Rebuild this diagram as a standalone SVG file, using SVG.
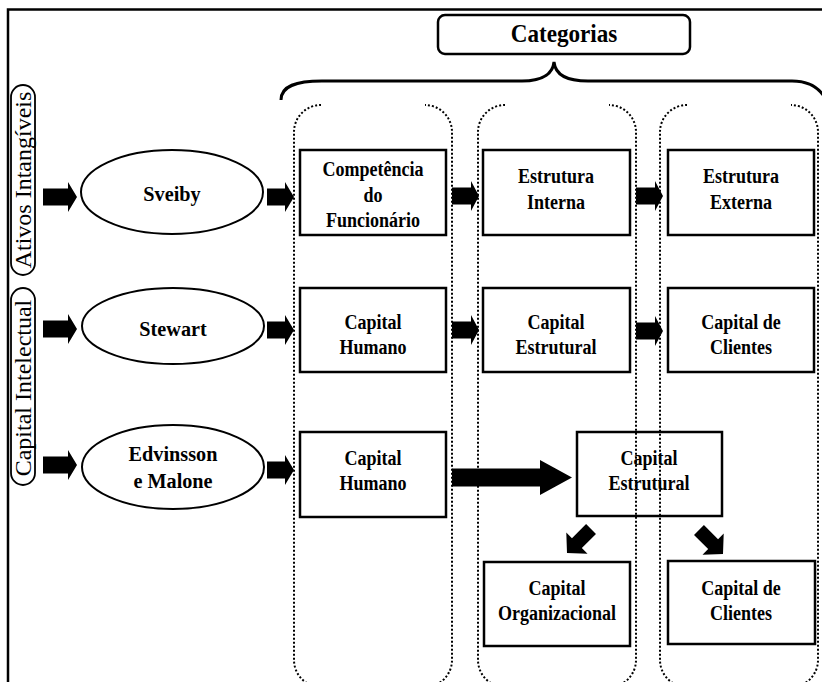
<svg xmlns="http://www.w3.org/2000/svg" width="822" height="682" viewBox="0 0 822 682" font-family="'Liberation Serif', 'Times New Roman', serif">
<style>
.frame{stroke:#000;stroke-width:2.5;fill:none}
.col{fill:none;stroke:#000;stroke-width:2;stroke-dasharray:2 2}
.box{fill:#fff;stroke:#000;stroke-width:2.5}
.ell{fill:#fff;stroke:#000;stroke-width:2}
.pill{fill:#fff;stroke:#000;stroke-width:1.8}
.arr{fill:#000;stroke:none}
.t{font-family:'Liberation Serif','Times New Roman',serif;font-weight:bold;font-size:22px;text-anchor:middle;fill:#000}
.e{font-family:'Liberation Serif','Times New Roman',serif;font-weight:bold;font-size:22px;text-anchor:middle;fill:#000}
.v{font-family:'Liberation Serif','Times New Roman',serif;font-size:24px;text-anchor:middle;fill:#000}
</style>
<rect width="822" height="682" fill="#fff"/>
<path class="frame" d="M8,682 V9.5 H822"/>

<g id="categorias">
<rect x="438" y="15" width="252" height="39" rx="7" fill="#fff" stroke="#000" stroke-width="2.5"/>
<text class="t" style="font-size:26px" transform="translate(564,42) scale(0.89,1)">Categorias</text>
</g>
<path id="brace" d="M281,100 C281,86 296,81 322,81 L522,81 C545,81 553,72 554,62 C555,72 563,81 588,81 L792,81 C810,81 818,88 823,95" fill="none" stroke="#000" stroke-width="3"/>

<g id="columns">
<path class="col" d="M321,105 A27,27 0 0 0 294,132 V660 A27,27 0 0 0 321,687 H425 A27,27 0 0 0 452,660 V132 A27,27 0 0 0 425,105"/>
<path class="col" d="M505,105 A27,27 0 0 0 478,132 V660 A27,27 0 0 0 505,687 H609 A27,27 0 0 0 636,660 V132 A27,27 0 0 0 609,105"/>
<path class="col" d="M687,105 A27,27 0 0 0 660,132 V660 A27,27 0 0 0 687,687 H791 A27,27 0 0 0 818,660 V132 A27,27 0 0 0 791,105"/>
</g>

<g id="label-ativos">
<rect class="pill" x="11" y="85" width="24" height="190" rx="12"/>
<text class="v" transform="translate(31,180) rotate(-90)">Ativos Intangíveis</text>
</g>
<g id="label-capital">
<rect class="pill" x="11" y="288" width="24" height="197" rx="12"/>
<text class="v" transform="translate(31,388) rotate(-90)">Capital Intelectual</text>
</g>

<g id="sveiby">
<ellipse class="ell" cx="172" cy="192" rx="91" ry="42"/>
<text class="e" transform="translate(172,201) scale(0.92,1)">Sveiby</text>
</g>
<g id="stewart">
<ellipse class="ell" cx="173" cy="326" rx="91" ry="38"/>
<text class="e" transform="translate(173,336) scale(0.92,1)">Stewart</text>
</g>
<g id="edvinsson">
<ellipse class="ell" cx="173" cy="467" rx="91" ry="42"/>
<text class="e" transform="translate(173,461) scale(0.92,1)">Edvinsson</text>
<text class="e" transform="translate(173,488) scale(0.92,1)">e Malone</text>
</g>

<g id="competencia">
<rect class="box" x="300" y="150" width="146" height="85"/>
<text class="t" transform="translate(373,176) scale(0.82,1)">Competência</text>
<text class="t" transform="translate(373,202) scale(0.82,1)">do</text>
<text class="t" transform="translate(373,227) scale(0.82,1)">Funcionário</text>
</g>
<g id="estrutura-interna">
<rect class="box" x="483" y="150" width="147" height="85"/>
<text class="t" transform="translate(556,183) scale(0.82,1)">Estrutura</text>
<text class="t" transform="translate(556,209) scale(0.82,1)">Interna</text>
</g>
<g id="estrutura-externa">
<rect class="box" x="668" y="150" width="146" height="85"/>
<text class="t" transform="translate(741,183) scale(0.82,1)">Estrutura</text>
<text class="t" transform="translate(741,209) scale(0.82,1)">Externa</text>
</g>

<g id="capital-humano-1">
<rect class="box" x="300" y="288" width="146" height="84"/>
<text class="t" transform="translate(373,329) scale(0.82,1)">Capital</text>
<text class="t" transform="translate(373,354) scale(0.82,1)">Humano</text>
</g>
<g id="capital-estrutural-1">
<rect class="box" x="483" y="288" width="147" height="84"/>
<text class="t" transform="translate(556,329) scale(0.82,1)">Capital</text>
<text class="t" transform="translate(556,354) scale(0.82,1)">Estrutural</text>
</g>
<g id="capital-clientes-1">
<rect class="box" x="668" y="288" width="146" height="84"/>
<text class="t" transform="translate(741,329) scale(0.82,1)">Capital de</text>
<text class="t" transform="translate(741,354) scale(0.82,1)">Clientes</text>
</g>

<g id="capital-humano-2">
<rect class="box" x="300" y="432" width="146" height="85"/>
<text class="t" transform="translate(373,465) scale(0.82,1)">Capital</text>
<text class="t" transform="translate(373,490) scale(0.82,1)">Humano</text>
</g>
<g id="capital-estrutural-2">
<rect class="box" x="577" y="432" width="145" height="84" style="fill:none"/>
<text class="t" transform="translate(649,465) scale(0.82,1)">Capital</text>
<text class="t" transform="translate(649,490) scale(0.82,1)">Estrutural</text>
</g>
<g id="capital-organizacional">
<rect class="box" x="484" y="562" width="146" height="84"/>
<text class="t" transform="translate(557,595) scale(0.82,1)">Capital</text>
<text class="t" transform="translate(557,620) scale(0.82,1)">Organizacional</text>
</g>
<g id="capital-clientes-2">
<rect class="box" x="668" y="561" width="147" height="83"/>
<text class="t" transform="translate(741,595) scale(0.82,1)">Capital de</text>
<text class="t" transform="translate(741,620) scale(0.82,1)">Clientes</text>
</g>

<g id="connectors">
<path class="arr" d="M43,188.5 H68 V182 L77,197 L68,212 V205.5 H43 Z"/>
<path class="arr" d="M43,320.5 H68 V314 L77,329 L68,344 V337.5 H43 Z"/>
<path class="arr" d="M43,456.5 H68 V450 L77,465 L68,480 V473.5 H43 Z"/>
<path class="arr" d="M267,188.5 H285 V182 L294,197 L285,212 V205.5 H267 Z"/>
<path class="arr" d="M267,321.5 H285 V315 L294,330 L285,345 V338.5 H267 Z"/>
<path class="arr" d="M267,461.5 H285 V455 L294,470 L285,485 V478.5 H267 Z"/>
<path class="arr" d="M452,187.5 H471 V181 L479,196 L471,211 V204.5 H452 Z"/>
<path class="arr" d="M636,187.5 H655 V181 L663,196 L655,211 V204.5 H636 Z"/>
<path class="arr" d="M452,321.5 H471 V315 L479,330 L471,345 V338.5 H452 Z"/>
<path class="arr" d="M636,322.5 H655 V316 L663,331 L655,346 V339.5 H636 Z"/>
<path class="arr" d="M452,468.5 H540 V460 L572,477.5 L540,495 V486.5 H452 Z"/>
<path class="arr" transform="translate(567,553) rotate(135)" d="M-34,-7 H-14 V-15 L0,0 L-14,15 V7 H-34 Z"/>
<path class="arr" transform="translate(723,554) rotate(45)" d="M-34,-7 H-14 V-15 L0,0 L-14,15 V7 H-34 Z"/>
</g>
</svg>
